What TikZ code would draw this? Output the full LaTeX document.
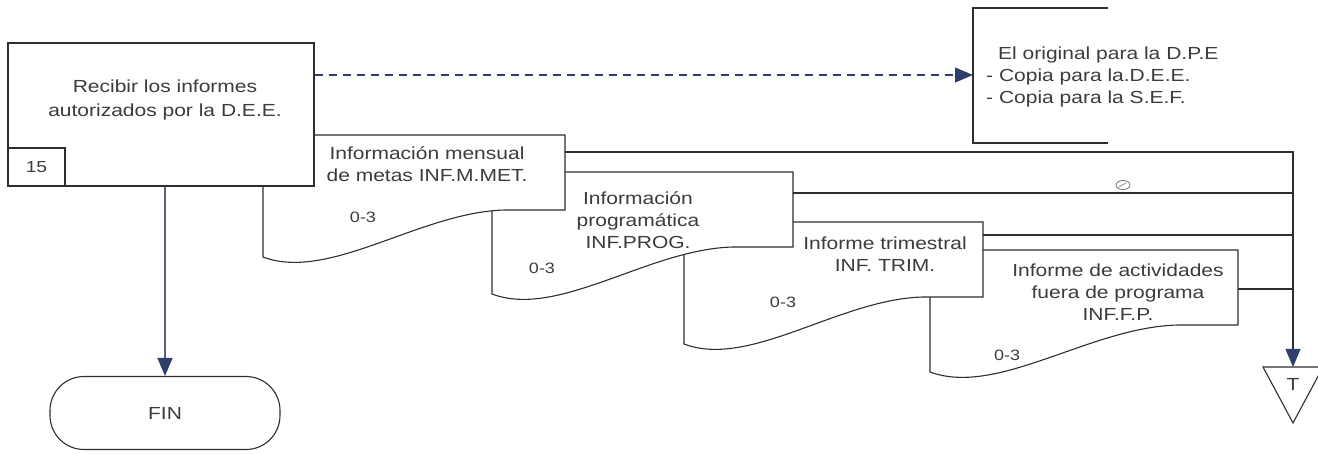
\documentclass[tikz,border=0pt]{standalone}
\usepackage{fontspec}
\setmainfont{Liberation Sans}[FakeStretch=1.2]
\usetikzlibrary{arrows.meta}
\definecolor{linec}{HTML}{2E2E2E}
\definecolor{txtc}{HTML}{3C3C3C}
\definecolor{navy}{HTML}{2F3F6B}
\definecolor{flowc}{HTML}{56627F}

% document symbol with a wavy lower edge: left, top, width, name
\newcommand{\docsheet}[4]{%
  \begin{scope}[shift={(#1,#2)}]
    \path[outline] (0,0) coordinate (#4-tl) -- (#3,0) coordinate (#4-tr)
      -- (#3,75) coordinate (#4-br) -- ({#3-60},75)
      .. controls ({#3*0.52},77) and ({#3*0.22},147) .. (0,122) -- cycle;
  \end{scope}}

\begin{document}
\begin{tikzpicture}[x=1pt,y=-1pt,
  outline/.style={draw=linec,line width=1.1pt,fill=white},
  lbl/.style={text=txtc,align=center,inner sep=0pt,font=\fontsize{17.5}{22}\selectfont},
  numlbl/.style={text=txtc,inner sep=0pt,font=\fontsize{15}{18}\selectfont},
  link/.style={draw=linec,line width=1.1pt},
  tip/.style={-{Triangle[length=18pt,width=15pt,color=navy]}},
]
\useasboundingbox (0,0) rectangle (1318,454);

% documents, back to front
\docsheet{930}{250}{308}{d4}
\docsheet{684}{222}{299}{d3}
\docsheet{492}{172}{301}{d2}
\docsheet{263}{135}{302}{d1}

\node[lbl] (d1text) at (427,164) {Información mensual\\de metas INF.M.MET.};
\node[lbl] (d2text) at (638,220) {Información\\programática\\INF.PROG.};
\node[lbl] (d3text) at (885,254) {Informe trimestral\\INF. TRIM.};
\node[lbl] (d4text) at (1118,292) {Informe de actividades\\fuera de programa\\INF.F.P.};

\node[numlbl] (d1num) at (363,217) {0-3};
\node[numlbl] (d2num) at (542,268) {0-3};
\node[numlbl] (d3num) at (783,302) {0-3};
\node[numlbl] (d4num) at (1007,355) {0-3};

% process step
\node[outline, minimum width=306pt, minimum height=143pt, inner sep=0pt] (proc) at (161,114.5) {};
\node[lbl, font=\fontsize{17.5}{24}\selectfont] (proctext) at (165,100) {Recibir los informes\\autorizados por la D.E.E.};
\node[draw=linec, line width=1.1pt, minimum width=57pt, minimum height=38pt, inner sep=0pt, anchor=south west] (stepno) at (proc.south west) {};
\node[lbl, font=\fontsize{16}{18}\selectfont] (stepnotext) at (stepno.center) {15};

% end terminator
\node[outline, lbl, rounded corners=34pt, minimum width=230pt, minimum height=73pt] (fin) at (165,413) {FIN};
\draw[draw=flowc, line width=1.1pt, tip] (proc.south -| fin.north) -- (fin.north);

% distribution note
\coordinate (brk) at (973,75);
\draw[link] (1108,8) -- (973,8) -- (973,143) -- (1108,143);
\node[text=txtc, align=left, inner sep=0pt, anchor=west, font=\fontsize{17.5}{22}\selectfont] (notes) at (986,77)
  {\hspace*{12pt}El original para la D.P.E\\- Copia para la.D.E.E.\\- Copia para la S.E.F.};
\draw[draw=navy, line width=1.1pt, dash pattern=on 8pt off 6pt, tip] (proc.east |- brk) -- (brk);

% file connector
\coordinate (ttop) at (1293,367);
\path[outline] (1263,367) -- (1323,367) -- (1293,423) -- cycle;
\node[lbl] (tlabel) at (1293,384) {T};

\coordinate (d1out) at (565,152);
\coordinate (d2out) at (793,193);
\coordinate (d3out) at (983,235);
\coordinate (d4out) at (1238,289);
\draw[link, tip] (d1out) -| (ttop);
\draw[link] (d2out) -- (d2out -| ttop);
\draw[link] (d3out) -- (d3out -| ttop);
\draw[link] (d4out) -- (d4out -| ttop);

% hand mark on the second line
\draw[gray, line width=0.9pt] (1123,185) ellipse [x radius=7, y radius=4.5];
\draw[gray, line width=0.7pt] (1119,187) -- (1126,183);
\end{tikzpicture}
\end{document}
